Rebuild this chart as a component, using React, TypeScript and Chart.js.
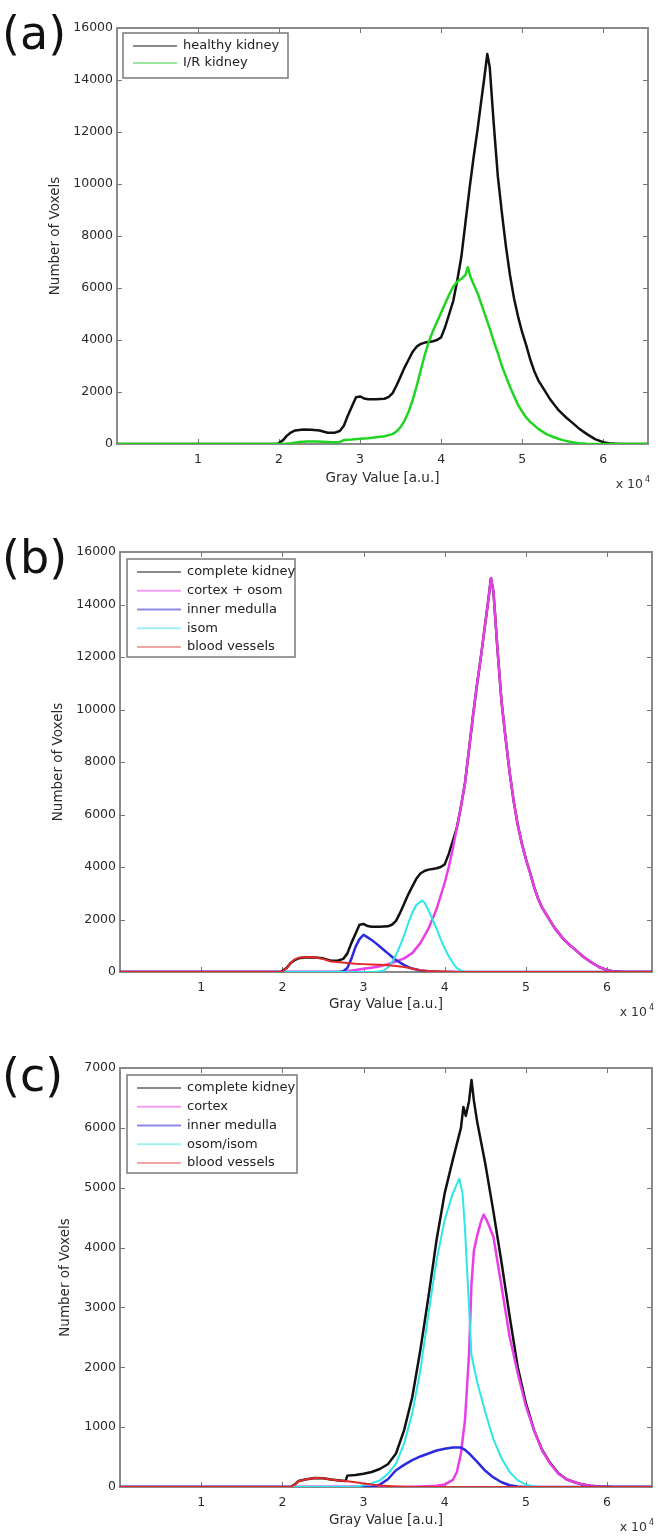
import React, { useEffect, useRef } from "react";
import { Chart, registerables } from "chart.js";

Chart.register(...registerables);

const FONT = "'DejaVu Sans', 'Liberation Sans', sans-serif";
const W = 662;
const X_MAX = 65535;
const xTickValues = [10000, 20000, 30000, 40000, 50000, 60000];

type Pt = [number, number];

// ---------- Panel (a) ----------
const healthyKidney: Pt[] = [
  [0, 0], [19800, 0], [20500, 150], [21000, 330], [21500, 450], [22000, 520], [23000, 560], [24000, 550],
  [25000, 520], [26000, 430], [26800, 430], [27500, 500], [28000, 700], [28500, 1100], [29000, 1450],
  [29500, 1800], [30000, 1830], [30500, 1750], [31000, 1720], [32000, 1720], [33000, 1740], [33500, 1800],
  [34000, 1950], [34500, 2250], [35000, 2600], [35500, 2950], [36000, 3250], [36500, 3550], [37000, 3750],
  [37500, 3850], [38000, 3900], [38500, 3920], [39000, 3950], [39500, 4000], [40000, 4100], [40500, 4500],
  [41000, 5000], [41500, 5500], [42000, 6300], [42500, 7200], [43000, 8500], [43500, 9800], [44000, 11000],
  [44500, 12100], [45000, 13300], [45300, 14000], [45700, 15000], [46000, 14500], [46500, 12300],
  [47000, 10300], [47500, 8900], [48000, 7600], [48500, 6500], [49000, 5600], [49500, 4900], [50000, 4300],
  [50500, 3800], [51000, 3250], [51500, 2800], [52000, 2450], [52500, 2200], [53000, 1950], [53500, 1700],
  [54000, 1500], [54500, 1300], [55000, 1150], [55500, 1000], [56000, 870], [57000, 600], [58000, 380],
  [59000, 190], [60000, 70], [61000, 15], [62000, 0], [65535, 0],
];

const irKidney: Pt[] = [
  [0, 0], [20500, 0], [21500, 30], [22500, 80], [23500, 100], [24500, 100], [25500, 90], [26500, 70],
  [27500, 80], [28000, 150], [29000, 170], [30000, 200], [31000, 220], [32000, 260], [33000, 300],
  [34000, 380], [34500, 480], [35000, 650], [35500, 900], [36000, 1250], [36500, 1700], [37000, 2250],
  [37500, 2850], [38000, 3450], [38500, 3950], [39000, 4350], [39500, 4700], [40000, 5050], [40500, 5400],
  [41000, 5750], [41500, 6050], [42000, 6250], [42500, 6350], [43000, 6500], [43300, 6800], [43600, 6450],
  [44000, 6150], [44500, 5800], [45000, 5350], [45500, 4900], [46000, 4450], [46500, 3950], [47000, 3500],
  [47500, 3000], [48000, 2600], [48500, 2200], [49000, 1850], [49500, 1500], [50000, 1250], [50500, 1020],
  [51000, 850], [52000, 580], [53000, 380], [54000, 250], [55000, 150], [56000, 80], [57000, 30],
  [58000, 10], [59000, 0], [65535, 0],
];

// ---------- Panel (b) ----------
const cortexOsomB: Pt[] = [
  [0, 0], [27000, 0], [28000, 30], [29000, 80], [30000, 120], [31000, 160], [32000, 220], [33000, 300],
  [34000, 400], [35000, 520], [36000, 720], [37000, 1100], [38000, 1650], [39000, 2400], [40000, 3400],
  [40500, 4000], [41000, 4700], [41500, 5500], [42000, 6300], [42500, 7200], [43000, 8500], [43500, 9800],
  [44000, 11000], [44500, 12100], [45000, 13300], [45300, 14000], [45700, 15000], [46000, 14500],
  [46500, 12300], [47000, 10300], [47500, 8900], [48000, 7600], [48500, 6500], [49000, 5600], [49500, 4900],
  [50000, 4300], [50500, 3800], [51000, 3250], [51500, 2800], [52000, 2450], [52500, 2200], [53000, 1950],
  [53500, 1700], [54000, 1500], [54500, 1300], [55000, 1150], [55500, 1000], [56000, 870], [57000, 600],
  [58000, 380], [59000, 190], [60000, 70], [61000, 15], [62000, 0], [65535, 0],
];

const innerMedullaB: Pt[] = [
  [0, 0], [27000, 0], [27500, 30], [28000, 150], [28500, 500], [29000, 950], [29500, 1250], [30000, 1420],
  [30500, 1320], [31000, 1220], [31500, 1100], [32000, 970], [32500, 840], [33000, 710], [33500, 580],
  [34000, 460], [34500, 360], [35000, 270], [35500, 190], [36000, 130], [37000, 60], [38000, 25],
  [39000, 10], [40000, 0], [65535, 0],
];

const isomB: Pt[] = [
  [0, 0], [31500, 0], [32500, 60], [33000, 180], [33500, 380], [34000, 650], [34500, 1000], [35000, 1400],
  [35500, 1850], [36000, 2250], [36500, 2550], [37200, 2720], [37500, 2650], [38000, 2350], [38500, 2000],
  [39000, 1650], [39500, 1250], [40000, 900], [40500, 600], [41000, 350], [41500, 150], [42000, 60],
  [42500, 0], [65535, 0],
];

const bloodVesselsB: Pt[] = [
  [0, 0], [20000, 0], [20500, 150], [21000, 330], [21500, 480], [22000, 540], [23000, 570], [24000, 560],
  [25000, 500], [25500, 450], [26000, 400], [27000, 370], [28000, 340], [29000, 310], [30000, 300],
  [31000, 290], [32000, 280], [33000, 260], [34000, 230], [35000, 190], [36000, 130], [37000, 70],
  [38000, 40], [39000, 25], [40000, 15], [41000, 5], [42000, 0], [65535, 0],
];

// ---------- Panel (c) ----------
const completeKidneyC: Pt[] = [
  [0, 0], [21000, 0], [21500, 40], [22000, 100], [23000, 130], [24000, 150], [25000, 145], [26000, 125],
  [27000, 110], [27800, 100], [28000, 190], [29000, 200], [30000, 220], [31000, 250], [32000, 300],
  [33000, 380], [34000, 560], [35000, 950], [36000, 1500], [37000, 2290], [38000, 3180], [39000, 4130],
  [40000, 4910], [41000, 5470], [42000, 6000], [42300, 6350], [42600, 6200], [43000, 6450], [43300, 6800],
  [43600, 6450], [44000, 6100], [45000, 5400], [46000, 4600], [47000, 3750], [48000, 2850], [49000, 2000],
  [50000, 1400], [51000, 950], [52000, 620], [53000, 400], [54000, 230], [55000, 130], [56000, 80],
  [57000, 40], [58000, 20], [59000, 8], [60000, 3], [61000, 0], [65535, 0],
];

const cortexC: Pt[] = [
  [0, 0], [35000, 0], [37000, 10], [39000, 20], [40000, 40], [41000, 120], [41500, 250], [42000, 560],
  [42500, 1120], [43000, 2230], [43300, 3400], [43600, 3950], [44000, 4200], [44500, 4450], [44800, 4550],
  [45200, 4450], [46000, 4180], [47000, 3350], [48000, 2510], [49000, 1900], [50000, 1350], [51000, 950],
  [52000, 610], [53000, 390], [54000, 220], [55000, 130], [56000, 80], [57000, 40], [58000, 20],
  [59000, 10], [60000, 5], [61000, 0], [65535, 0],
];

const innerMedullaC: Pt[] = [
  [0, 0], [31000, 0], [32000, 40], [33000, 130], [34000, 280], [35000, 370], [36000, 450], [37000, 510],
  [38000, 560], [39000, 610], [40000, 640], [41000, 660], [42000, 660], [42500, 620], [43000, 560],
  [44000, 420], [45000, 270], [46000, 160], [47000, 80], [48000, 30], [49000, 8], [50000, 0], [65535, 0],
];

const osomIsomC: Pt[] = [
  [0, 0], [29000, 0], [30000, 30], [31000, 60], [32000, 110], [33000, 220], [34000, 390], [35000, 725],
  [36000, 1230], [37000, 1950], [38000, 2900], [39000, 3790], [40000, 4460], [41000, 4910], [41800, 5150],
  [42200, 4900], [42500, 4300], [43000, 3000], [43300, 2200], [44000, 1750], [45000, 1250], [46000, 800],
  [47000, 480], [48000, 250], [49000, 110], [50000, 40], [51000, 10], [52000, 0], [65535, 0],
];

const bloodVesselsC: Pt[] = [
  [0, 0], [21000, 0], [21500, 40], [22000, 100], [23000, 130], [24000, 150], [25000, 145], [26000, 125],
  [27000, 110], [28000, 95], [29000, 80], [30000, 60], [31000, 40], [32000, 25], [33000, 15], [34000, 8],
  [35000, 3], [36000, 0], [65535, 0],
];

// ---------- styles ----------
const BLACK = "#111111";
const GREEN = "#22d422";
const MAGENTA = "#e83ee8";
const BLUE = "#2a2ae0";
const CYAN = "#2ee6e6";
const RED = "#e02a2a";

interface SeriesDef {
  label: string;
  data: Pt[];
  color: string;
  legendColor: string;
  width: number;
}

interface PanelDef {
  key: string;
  letter: string;
  top: number;
  height: number;
  area: { left: number; right: number; top: number; bottom: number };
  yMax: number;
  yStep: number;
  series: SeriesDef[];
  legend: { dx: number; dy: number; w: number; h: number; firstRow: number; rowH: number };
  yTitleX: number;
  xTitleY: number;
  letterTop: number;
}

const panels: PanelDef[] = [
  {
    key: "a",
    letter: "(a)",
    top: 0,
    height: 505,
    area: { left: 117, right: 648, top: 28, bottom: 444 },
    yMax: 16000,
    yStep: 2000,
    series: [
      { label: "healthy kidney", data: healthyKidney, color: BLACK, legendColor: "#8a8a8a", width: 2.5 },
      { label: "I/R kidney", data: irKidney, color: GREEN, legendColor: "#9ee49e", width: 2.5 },
    ],
    legend: { dx: 6, dy: 5, w: 165, h: 45, firstRow: 13, rowH: 17 },
    yTitleX: 55,
    xTitleY: 478,
    letterTop: 10,
  },
  {
    key: "b",
    letter: "(b)",
    top: 510,
    height: 520,
    area: { left: 120, right: 652, top: 42, bottom: 462 },
    yMax: 16000,
    yStep: 2000,
    series: [
      { label: "complete kidney", data: healthyKidney, color: BLACK, legendColor: "#8a8a8a", width: 2.5 },
      { label: "cortex + osom", data: cortexOsomB, color: MAGENTA, legendColor: "#f0a0f0", width: 2.5 },
      { label: "inner medulla", data: innerMedullaB, color: BLUE, legendColor: "#8c8ce6", width: 2.5 },
      { label: "isom", data: isomB, color: CYAN, legendColor: "#a4f0f0", width: 2 },
      { label: "blood vessels", data: bloodVesselsB, color: RED, legendColor: "#f0a4a4", width: 2 },
    ],
    legend: { dx: 7, dy: 7, w: 168, h: 98, firstRow: 13, rowH: 18.75 },
    yTitleX: 58,
    xTitleY: 494,
    letterTop: 24,
  },
  {
    key: "c",
    letter: "(c)",
    top: 1030,
    height: 509,
    area: { left: 120, right: 652, top: 38, bottom: 457 },
    yMax: 7000,
    yStep: 1000,
    series: [
      { label: "complete kidney", data: completeKidneyC, color: BLACK, legendColor: "#8a8a8a", width: 2.5 },
      { label: "cortex", data: cortexC, color: MAGENTA, legendColor: "#f0a0f0", width: 2.5 },
      { label: "inner medulla", data: innerMedullaC, color: BLUE, legendColor: "#8c8ce6", width: 2.5 },
      { label: "osom/isom", data: osomIsomC, color: CYAN, legendColor: "#a4f0f0", width: 2 },
      { label: "blood vessels", data: bloodVesselsC, color: RED, legendColor: "#f0a4a4", width: 2 },
    ],
    legend: { dx: 7, dy: 7, w: 170, h: 98, firstRow: 13, rowH: 18.75 },
    yTitleX: 65,
    xTitleY: 490,
    letterTop: 22,
  },
];

function PanelChart({ p }: { p: PanelDef }) {
  const ref = useRef<HTMLCanvasElement | null>(null);

  useEffect(() => {
    const canvas = ref.current;
    if (!canvas) return;

    const decor = {
      id: "decor" + p.key,
      beforeDatasetsDraw(chart: any) {
        const { ctx, chartArea: a, scales } = chart;
        ctx.save();
        ctx.strokeStyle = "#8a8a8a";
        ctx.lineWidth = 2;
        const L = Math.round(a.left);
        const R = Math.round(a.right);
        const T = Math.round(a.top);
        const B = Math.round(a.bottom);
        ctx.strokeRect(L, T, R - L, B - T);
        ctx.lineWidth = 1;
        ctx.strokeStyle = "#777";
        ctx.beginPath();
        for (const t of scales.x.ticks) {
          const px = Math.round(scales.x.getPixelForValue(t.value)) + 0.5;
          ctx.moveTo(px, B);
          ctx.lineTo(px, B - 5);
          ctx.moveTo(px, T);
          ctx.lineTo(px, T + 5);
        }
        for (const t of scales.y.ticks) {
          if (t.value <= 0 || t.value >= p.yMax) continue;
          const py = Math.round(scales.y.getPixelForValue(t.value)) + 0.5;
          ctx.moveTo(L, py);
          ctx.lineTo(L + 5, py);
          ctx.moveTo(R, py);
          ctx.lineTo(R - 5, py);
        }
        ctx.stroke();
        ctx.restore();
      },
      afterDraw(chart: any) {
        const { ctx, chartArea: a } = chart;
        ctx.save();
        // legend
        const lg = p.legend;
        const lx = Math.round(a.left + lg.dx);
        const ly = Math.round(a.top + lg.dy);
        ctx.fillStyle = "#ffffff";
        ctx.fillRect(lx, ly, lg.w, lg.h);
        ctx.strokeStyle = "#7a7a7a";
        ctx.lineWidth = 1.5;
        ctx.strokeRect(lx, ly, lg.w, lg.h);
        p.series.forEach((s, i) => {
          const y = ly + lg.firstRow + i * lg.rowH;
          ctx.strokeStyle = s.legendColor;
          ctx.lineWidth = 2;
          ctx.beginPath();
          ctx.moveTo(lx + 10, y);
          ctx.lineTo(lx + 54, y);
          ctx.stroke();
          ctx.fillStyle = "#222";
          ctx.font = `13px ${FONT}`;
          ctx.textAlign = "left";
          ctx.textBaseline = "middle";
          ctx.fillText(s.label, lx + 60, y);
        });
        // x 10^4 exponent
        ctx.fillStyle = "#333";
        ctx.font = `12.5px ${FONT}`;
        ctx.textAlign = "right";
        ctx.textBaseline = "middle";
        ctx.fillText("x 10", a.right - 5, a.bottom + 41);
        ctx.font = `8px ${FONT}`;
        ctx.textAlign = "left";
        ctx.fillText("4", a.right - 3, a.bottom + 36);
        ctx.restore();
      },
    };

    const n = p.series.length;
    const chart = new Chart(canvas, {
      type: "line",
      data: {
        datasets: p.series.map((s, i) => ({
          label: s.label,
          data: s.data.map(([x, y]) => ({ x, y })),
          borderColor: s.color,
          backgroundColor: s.color,
          borderWidth: s.width,
          pointRadius: 0,
          tension: 0,
          fill: false,
          borderJoinStyle: "round" as const,
          order: n - i,
        })),
      },
      options: {
        responsive: false,
        animation: false,
        events: [],
        layout: {
          padding: { left: 0, top: p.area.top, right: W - p.area.right, bottom: 0 },
        },
        plugins: {
          legend: { display: false },
          tooltip: { enabled: false },
          title: { display: false },
        },
        scales: {
          x: {
            type: "linear",
            position: "bottom",
            min: 0,
            max: X_MAX,
            grid: { display: false, drawTicks: false },
            border: { display: false },
            ticks: {
              autoSkip: false,
              maxRotation: 0,
              padding: 8,
              color: "#2a2a2a",
              font: { family: FONT, size: 12.5 },
              callback: (v: any) => String(Number(v) / 10000),
            },
            afterBuildTicks: (s: any) => {
              s.ticks = xTickValues.map((v) => ({ value: v }));
            },
            afterFit: (s: any) => {
              s.height = p.height - p.area.bottom;
            },
            title: {
              display: true,
              text: "Gray Value [a.u.]",
              color: "#2a2a2a",
              font: { family: FONT, size: 13.5 },
              padding: { top: 0, bottom: p.height - p.xTitleY - 8.1 },
            },
          },
          y: {
            type: "linear",
            min: 0,
            max: p.yMax,
            grid: { display: false, drawTicks: false },
            border: { display: false },
            ticks: {
              stepSize: p.yStep,
              padding: 4,
              color: "#2a2a2a",
              font: { family: FONT, size: 12.5 },
              callback: (v: any) => String(v),
            },
            afterFit: (s: any) => {
              s.width = p.area.left;
            },
            title: {
              display: true,
              text: "Number of Voxels",
              color: "#2a2a2a",
              font: { family: FONT, size: 13.5 },
              padding: { top: p.yTitleX - 8.1, bottom: 0 },
            },
          },
        },
      },
      plugins: [decor],
    } as any);

    return () => chart.destroy();
  }, [p]);

  return (
    <>
      <canvas
        ref={ref}
        width={W}
        height={p.height}
        style={{ position: "absolute", left: 0, top: p.top, width: W, height: p.height, display: "block" }}
      />
      <div
        style={{
          position: "absolute",
          left: 2,
          top: p.top + p.letterTop,
          fontFamily: FONT,
          fontSize: 46,
          lineHeight: "46px",
          color: "#111",
          whiteSpace: "nowrap",
        }}
      >
        {p.letter}
      </div>
    </>
  );
}

export default function App() {
  return (
    <div
      style={{
        position: "absolute",
        left: 0,
        top: 0,
        width: W,
        height: 1539,
        background: "#ffffff",
        overflow: "hidden",
      }}
    >
      {panels.map((p) => (
        <PanelChart key={p.key} p={p} />
      ))}
    </div>
  );
}
